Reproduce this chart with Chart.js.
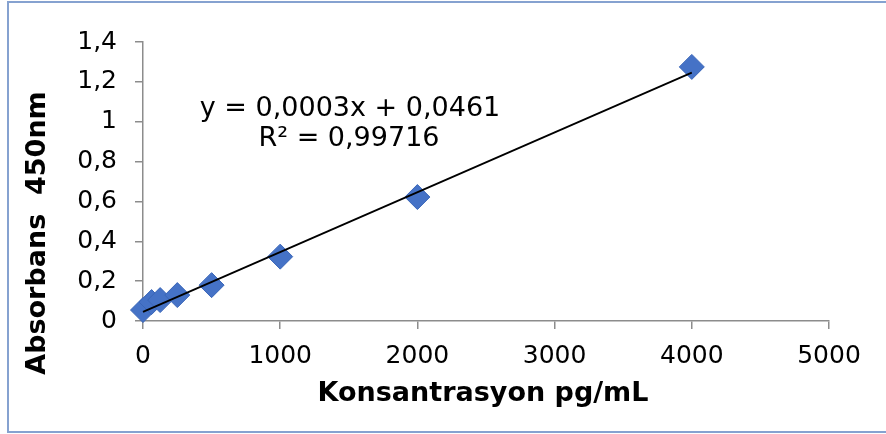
<!DOCTYPE html>
<html>
<head>
<meta charset="utf-8">
<script src="https://cdn.jsdelivr.net/npm/chart.js@4.4.1/dist/chart.umd.min.js"></script>
<style>
  html, body { margin: 0; padding: 0; background: #ffffff; }
  canvas { display: block; }
</style>
</head>
<body>
<canvas id="chart" width="886" height="434"></canvas>
<script>
// Standard curve: concentration (pg/mL) vs absorbance at 450 nm
const concentrations = [0, 62.5, 125, 250, 500, 1000, 2000, 4000];
const absorbance = [0.055, 0.095, 0.105, 0.13, 0.18, 0.323, 0.622, 1.275];

// Linear fit shown on the chart
const trendSlope = 0.0003;
const trendIntercept = 0.0461;
const trendRange = [0, 4000];
const equationLines = ['y = 0,0003x + 0,0461', 'R² = 0,99716'];

// Axis tick labels
const xTickLabels = ['0', '1000', '2000', '3000', '4000', '5000'];
const yTickLabels = ['0', '0,2', '0,4', '0,6', '0,8', '1', '1,2', '1,4'];

const xTitle = 'Konsantrasyon pg/mL';
const yTitle = 'Absorbans  450nm';

const axisGrey = '#8c8c8c';
const tickFont = { family: 'DejaVu Sans', size: 25 };

const points = concentrations.map((c, i) => ({ x: c, y: absorbance[i] }));
const trendPoints = trendRange.map(x => ({ x: x, y: trendSlope * x + trendIntercept }));

// Frame, axis titles and the regression equation
const decorations = {
  id: 'decorations',
  beforeDraw(chart) {
    const ctx = chart.ctx;
    ctx.save();
    ctx.fillStyle = '#ffffff';
    ctx.fillRect(0, 0, chart.width, chart.height);
    ctx.restore();
  },
  afterDraw(chart) {
    const ctx = chart.ctx;
    ctx.save();
    // outer frame (right edge runs past the canvas)
    ctx.strokeStyle = '#86a2d0';
    ctx.lineWidth = 2;
    ctx.strokeRect(8, 2, 920, 430);

    // axis titles
    ctx.fillStyle = '#000000';
    ctx.font = 'bold 27px "DejaVu Sans"';
    ctx.textAlign = 'center';
    ctx.textBaseline = 'middle';
    ctx.fillText(xTitle, 483, 394);

    ctx.save();
    ctx.translate(38, 233);
    ctx.rotate(-Math.PI / 2);
    ctx.fillText(yTitle, 0, 0);
    ctx.restore();

    // regression equation
    ctx.font = '27px "DejaVu Sans"';
    ctx.fillText(equationLines[0], 350, 109);
    ctx.fillText(equationLines[1], 349, 139);
    ctx.restore();
  }
};

new Chart(document.getElementById('chart'), {
  type: 'scatter',
  data: {
    datasets: [
      {
        label: 'Linear fit',
        data: trendPoints,
        showLine: true,
        borderColor: '#000000',
        borderWidth: 1.8,
        pointRadius: 0,
        pointHoverRadius: 0,
        fill: false,
        clip: false,
        order: 0
      },
      {
        label: 'Absorbans',
        data: points,
        pointStyle: 'rectRot',
        pointRadius: 12.5,
        pointHoverRadius: 12.5,
        backgroundColor: '#4572c6',
        borderColor: '#3b67b9',
        borderWidth: 1,
        clip: false,
        order: 1
      }
    ]
  },
  options: {
    responsive: false,
    animation: false,
    devicePixelRatio: 1,
    layout: { padding: { left: 8, right: 57, top: 42, bottom: 0 } },
    plugins: {
      legend: { display: false },
      tooltip: { enabled: false },
      title: { display: false }
    },
    scales: {
      x: {
        type: 'linear',
        min: 0,
        max: 5000,
        ticks: {
          stepSize: 1000,
          font: tickFont,
          color: '#000000',
          padding: 12,
          maxRotation: 0,
          callback: (v, i) => xTickLabels[i]
        },
        grid: {
          drawOnChartArea: false,
          drawTicks: true,
          tickLength: 8,
          tickColor: axisGrey,
          lineWidth: 1.5
        },
        border: { display: true, color: axisGrey, width: 1.5 },
        afterFit(scale) { scale.height = 113; }
      },
      y: {
        type: 'linear',
        min: 0,
        max: 1.4,
        ticks: {
          stepSize: 0.2,
          font: tickFont,
          color: '#000000',
          padding: 18,
          callback: (v, i) => yTickLabels[i]
        },
        grid: {
          drawOnChartArea: false,
          drawTicks: true,
          tickLength: 8,
          tickColor: axisGrey,
          lineWidth: 1.5
        },
        border: { display: true, color: axisGrey, width: 1.5 },
        afterFit(scale) { scale.width = 135; }
      }
    }
  },
  plugins: [decorations]
});
</script>
</body>
</html>
